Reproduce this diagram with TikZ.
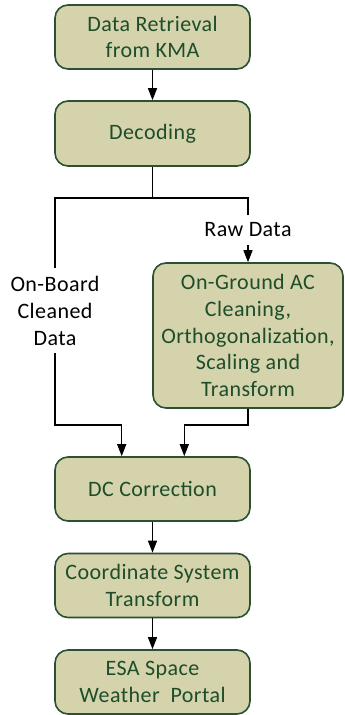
\documentclass[tikz,border=0pt]{standalone}
\usepackage{fontspec}
\setmainfont{Carlito}[LetterSpace=2]
\usetikzlibrary{arrows.meta}
\definecolor{boxfill}{HTML}{D4D3AC}
\definecolor{boxline}{HTML}{2D5032}
\definecolor{boxtext}{HTML}{1E4D2B}
\begin{document}
\begin{tikzpicture}[x=1pt,y=-1pt,
  proc/.style={draw=boxline, fill=boxfill, line width=1.6pt, rounded corners=13pt,
    text=boxtext, align=center, minimum width=195pt, inner sep=0pt,
    font=\fontsize{22}{26.8}\selectfont},
  lbl/.style={align=center, inner sep=0pt, text=black, font=\fontsize{22}{27}\selectfont},
  conn/.style={line width=1.3pt, draw=black},
  arr/.style={conn, -{Triangle[length=12pt,width=9pt]}}]
\useasboundingbox (0,0) rectangle (345,715);
\node[proc, minimum height=64pt] (b1) at (152.5,37) {Data Retrieval\\from KMA};
\node[proc, minimum height=65pt] (b2) at (152.5,133.5) {Decoding};
\node[proc, minimum width=190pt, minimum height=145pt] (b3) at (248,335.5)
  {On-Ground AC\\Cleaning,\\Orthogonalization,\\Scaling and\\Transform};
\node[proc, minimum height=64pt] (dc) at (152.5,489) {DC Correction};
\node[proc, minimum height=64pt] (cs) at (152.5,585.5) {Coordinate System\\Transform};
\node[proc, minimum height=64pt] (esa) at (152.5,682) {ESA Space\\Weather~~Portal};
\node[lbl, minimum height=30pt] (raw) at (248,230) {Raw Data};
\node[lbl, minimum height=85pt] (onb) at (55,310.5) {On-Board\\Cleaned\\Data};
\coordinate (j) at (152.5,198);
\coordinate (c1) at (121.7,425);
\coordinate (c2) at (184.3,425);
\draw[arr] (b1) -- (b2);
\draw[conn] (b2.south) -- (j);
\draw[conn] (j) -| (onb.north);
\draw[conn] (j) -| (raw.north);
\draw[arr] (raw.south) -- (b3.north);
\draw[conn] (onb.south) |- (c1);
\draw[arr] (c1) -- (c1 |- dc.north);
\draw[conn] (b3.south) |- (c2);
\draw[arr] (c2) -- (c2 |- dc.north);
\draw[arr] (dc) -- (cs);
\draw[arr] (cs) -- (esa);
\end{tikzpicture}
\end{document}
